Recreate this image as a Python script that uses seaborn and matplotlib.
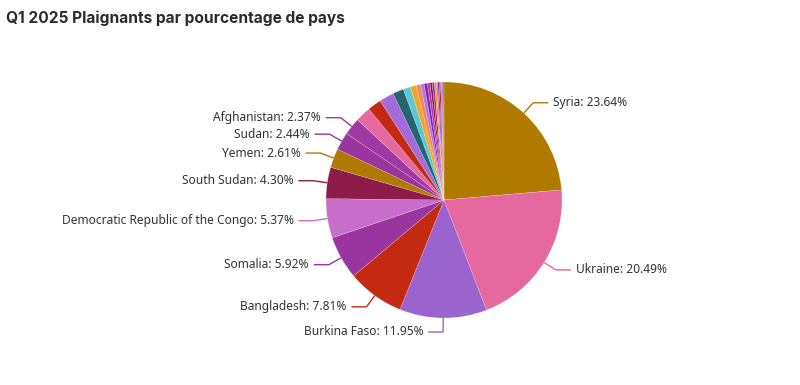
import numpy as np
import matplotlib
matplotlib.use("Agg")
import matplotlib.pyplot as plt
import seaborn as sns

# Countries with a labelled share (%), clockwise from 12 o'clock
countries = ["Syria", "Ukraine", "Burkina Faso", "Bangladesh", "Somalia",
             "Democratic Republic of the Congo", "South Sudan", "Yemen",
             "Sudan", "Afghanistan"]
shares = [23.64, 20.49, 11.95, 7.81, 5.92, 5.37, 4.30, 2.61, 2.44, 2.37]

# Remaining smaller countries (unlabelled slices), in drawing order
minor_shares = [2.10, 1.90, 2.00, 1.50, 1.00, 0.80, 0.60, 0.50, 0.45,
                0.35, 0.30, 0.30, 0.25, 0.20, 0.20, 0.20, 0.15, 0.15, 0.15]

major_colors = ["#B07A00", "#E5689F", "#9B63CE", "#C42A12", "#9A359F",
                "#C86DCA", "#8E1C4B", "#B07A00", "#9A359F", "#9E38A3"]
minor_colors = ["#E5689F", "#C42A12", "#A46ADA", "#23666F", "#5CC8D4",
                "#F5A42A", "#F2885A", "#B574E0", "#7A2BBE", "#C0359A",
                "#8E1C4B", "#9A359F", "#E39A2A", "#E5689F", "#7A2BBE",
                "#C42A12", "#C86DCA", "#9B63CE", "#B07A00"]

sns.set_theme(style="white")
plt.rcParams["font.family"] = ["Noto Sans", "DejaVu Sans"]

values = shares + minor_shares
palette = sns.color_palette(major_colors + minor_colors)

W, H = 800, 385
fig = plt.figure(figsize=(W / 100, H / 100), dpi=100)
ax = fig.add_axes([0, 0, 1, 1])

cx, cy, R = 444, H - 200, 118
wedges, _ = ax.pie(values, colors=palette, startangle=90, counterclock=False,
                   center=(cx, cy), radius=R,
                   wedgeprops=dict(edgecolor="white", linewidth=0.12))
ax.set_xlim(0, W)
ax.set_ylim(0, H)
ax.set_aspect("equal")
ax.axis("off")

# Leader lines: radial segment, then horizontal segment, then text
total = sum(values)
cum = 0.0
for name, val, col in zip(countries, shares, major_colors):
    mid = np.deg2rad((cum + val / 2) / total * 360)
    cum += val
    sx, sy = np.sin(mid), np.cos(mid)
    x0, y0 = cx + R * sx, cy + R * sy
    x1, y1 = cx + (R + 14) * sx, cy + (R + 14) * sy
    right = sx > 0.0
    x2 = x1 + 15 if right else x1 - 15
    ax.plot([x0, x1, x2], [y0, y1, y1], color=col, lw=1.0,
            solid_capstyle="butt", solid_joinstyle="miter")
    ax.text(x2 + (5 if right else -5), y1, f"{name}: {val:.2f}%",
            ha="left" if right else "right", va="center",
            fontsize=8.6, color="#333333")

fig.text(6 / W, 1 - 18 / H, "Q1 2025 Plaignants par pourcentage de pays",
         fontsize=11.15, fontweight="bold", family=["Inter", "DejaVu Sans"],
         color="#2B2B2B", ha="left", va="center")

fig.savefig("out.png", dpi=100, facecolor="white")
